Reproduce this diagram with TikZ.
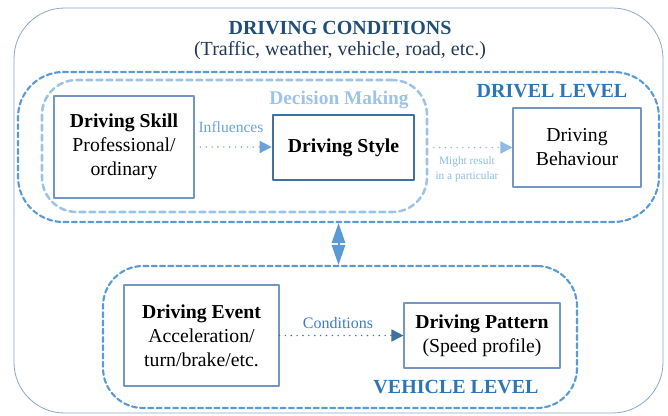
\documentclass[tikz,border=0pt]{standalone}
\usepackage{fontspec}
\setmainfont{Liberation Serif}
\usetikzlibrary{arrows.meta}
\definecolor{ttlblue}{HTML}{1F4E79}
\definecolor{subblue}{HTML}{22395A}
\definecolor{lvlblue}{HTML}{2E75B6}
\definecolor{zoneblue}{HTML}{5B9BD5}
\definecolor{dmblue}{HTML}{9DC3E6}
\definecolor{boxline}{HTML}{7396C2}
\definecolor{styleline}{HTML}{41719C}
\definecolor{outline}{HTML}{8EA8C3}
\definecolor{inflblue}{HTML}{6AA3DB}
\definecolor{mightblue}{HTML}{8DBBE5}
\definecolor{condblue}{HTML}{3B7CC2}
\begin{document}
\begin{tikzpicture}[x=0.75pt, y=-0.75pt, line join=round, line cap=round,
	>={Triangle[length=9pt,width=9pt]},
	box/.style={draw=boxline, line width=0.8pt, inner sep=0pt, align=center, font=\fontsize{14.8}{18}\selectfont},
	zone/.style={draw=zoneblue, line width=1.6pt, dash pattern=on 3.8pt off 2.4pt, inner sep=0pt},
	lvl/.style={text=lvlblue, font=\fontsize{15}{18}\selectfont\bfseries},
	link/.style={->, line width=1.2pt, dash pattern=on 0pt off 4.4pt}]
	\def\q{0.75pt}
	\useasboundingbox (0,0) rectangle (668,415);
	% driving conditions
	\draw[outline, line width=0.6pt, rounded corners=38pt] (14,8) rectangle (663,413);
	\node[text=ttlblue, font=\fontsize{15}{18}\selectfont\bfseries] (ttl) at (340,28) {DRIVING CONDITIONS};
	\node[text=subblue, font=\fontsize{15}{18}\selectfont] (sub) at (340,51) {(Traffic, weather, vehicle, road, etc.)};
	% levels
	\node[zone, rounded corners=34pt, minimum width=641*\q, minimum height=150*\q] (drv) at (338.5,147) {};
	\node[zone, draw=dmblue, line width=1.9pt, dash pattern=on 4.5pt off 3pt, rounded corners=26pt,
		minimum width=385*\q, minimum height=132*\q] (dm) at (234.5,146) {};
	\node[zone, rounded corners=30pt, minimum width=474*\q, minimum height=142*\q] (veh) at (340,337) {};
	\node[lvl] (drvlbl) at (552,91) {DRIVEL LEVEL};
	\node[lvl, text=dmblue, font=\fontsize{14.5}{18}\selectfont\bfseries] (dmlbl) at (339,100) {Decision Making};
	\node[lvl] (vehlbl) at (456,387) {VEHICLE LEVEL};
	% boxes
	\node[box, minimum width=140*\q, minimum height=102*\q] (skill) at (124,147) {\textbf{Driving Skill}\\Professional/\\ordinary};
	\node[box, draw=styleline, line width=2pt, minimum width=141*\q, minimum height=65*\q] (style) at (343.5,147.5) {\textbf{Driving Style}};
	\node[box, minimum width=128*\q, minimum height=79*\q] (beh) at (577,147.5) {Driving\\Behaviour};
	\node[box, minimum width=155*\q, minimum height=101*\q] (event) at (201.5,335.5) {\textbf{Driving Event}\\Acceleration/\\turn/brake/etc.};
	\node[box, minimum width=156*\q, minimum height=65*\q] (pat) at (482,335.5) {\textbf{Driving Pattern}\\(Speed profile)};
	% links
	\draw[link, inflblue] (skill.east) -- (skill.east -| style.west);
	\draw[link, mightblue, shorten <=4pt] (dm.east |- style.east) -- (beh.west);
	\draw[link, styleline] (event.east) -- (event.east -| pat.west);
	\draw[{Triangle[length=15pt,width=10pt]}-{Triangle[length=15pt,width=10pt]}, zoneblue, line width=1.5pt]
		(drv.south) -- (drv.south |- veh.north);
	\node[text=inflblue, font=\fontsize{11.7}{14}\selectfont] (infl) at (231,127) {Influences};
	\node[text=mightblue, align=center, font=\fontsize{8.5}{11.2}\selectfont] (might) at (467,169.5) {Might result\\in a particular};
	\node[text=condblue, font=\fontsize{12}{14}\selectfont] (cond) at (338,323) {Conditions};
\end{tikzpicture}
\end{document}
